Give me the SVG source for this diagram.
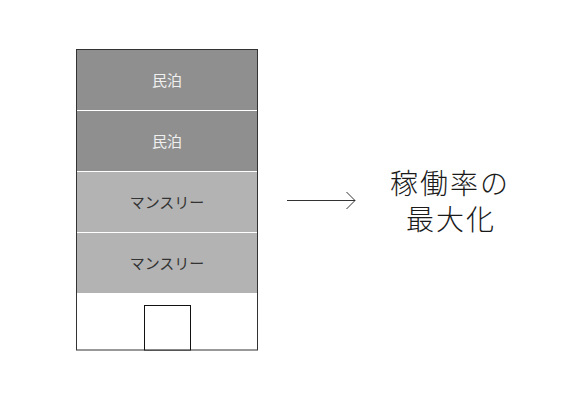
<svg xmlns="http://www.w3.org/2000/svg" width="585" height="400" viewBox="0 0 585 400">
<style>
.lbl{font-family:"Noto Sans CJK JP","Noto Sans",sans-serif;font-size:15px;text-anchor:middle;dominant-baseline:central}
.dark{fill:#8f8f8f}
.light{fill:#b3b3b3}
.big{font-family:"Noto Sans CJK JP",sans-serif;font-size:28px;font-weight:300;fill:#1a1a1a;text-anchor:middle;letter-spacing:2px}
</style>
<rect width="585" height="400" fill="#fff"/>
<g id="building">
<rect x="76.5" y="49.5" width="181" height="300.5" fill="#fff" stroke="#333" stroke-width="1"/>
</g>
<g id="floor1">
<rect class="dark" x="77" y="50" width="180" height="60"/>
<text class="lbl" x="167" y="79" fill="#f0f0f0">民泊</text>
</g>
<g id="floor2">
<rect class="dark" x="77" y="111" width="180" height="60"/>
<text class="lbl" x="167" y="140" fill="#f0f0f0">民泊</text>
</g>
<g id="floor3">
<rect class="light" x="77" y="172" width="180" height="60"/>
<text class="lbl" x="167" y="201" fill="#333">マンスリー</text>
</g>
<g id="floor4">
<rect class="light" x="77" y="233" width="180" height="60"/>
<text class="lbl" x="167" y="262" fill="#333">マンスリー</text>
</g>
<g id="door">
<rect x="144.5" y="305.5" width="46" height="44.5" fill="#fff" stroke="#111" stroke-width="1"/>
</g>
<g id="connectors">
<line x1="287" y1="200.5" x2="355" y2="200.5" stroke="#333" stroke-width="1"/>
<polyline points="346.5,192 355,200.5 346.5,209" fill="none" stroke="#333" stroke-width="1"/>
</g>
<g id="result">
<text class="big"><tspan x="450" y="194">稼働率の</tspan><tspan x="451" y="230">最大化</tspan></text>
</g>
</svg>
